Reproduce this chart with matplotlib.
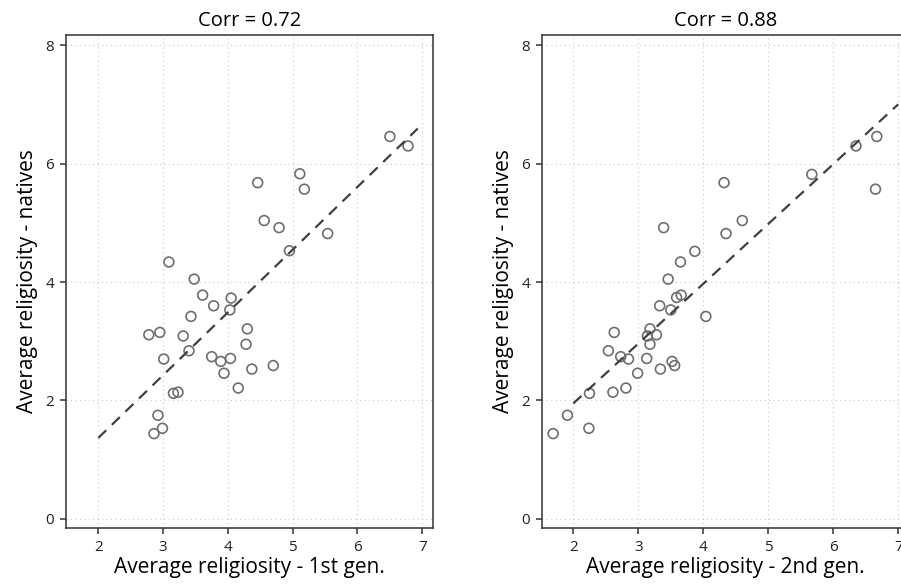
import numpy as np
import matplotlib.pyplot as plt

plt.rcParams["font.family"] = ["Open Sans", "DejaVu Sans"]

# Country averages: immigrants (1st / 2nd generation) vs natives
gen1_x = [6.50, 6.78, 4.46, 5.11, 5.18, 4.56, 4.79, 5.54, 4.95, 3.09, 3.48, 3.61,
          4.05, 3.78, 4.03, 3.43, 4.30, 2.78, 2.95, 3.31, 4.28, 3.40, 3.01, 3.75,
          3.89, 4.04, 4.70, 4.37, 3.94, 4.16, 3.16, 3.23, 2.92, 2.99, 2.86]
gen1_y = [6.46, 6.30, 5.68, 5.83, 5.57, 5.04, 4.92, 4.82, 4.53, 4.34, 4.05, 3.78,
          3.73, 3.60, 3.53, 3.42, 3.21, 3.11, 3.15, 3.09, 2.95, 2.84, 2.70, 2.74,
          2.66, 2.71, 2.59, 2.53, 2.46, 2.21, 2.12, 2.14, 1.75, 1.53, 1.44]

gen2_x = [6.67, 6.35, 6.65, 5.67, 4.32, 4.60, 4.35, 3.39, 3.87, 3.65, 3.46, 3.66,
          3.59, 3.33, 3.50, 4.04, 3.18, 2.63, 3.28, 3.14, 3.18, 2.54, 2.73, 2.85,
          3.13, 3.52, 3.56, 3.34, 2.99, 2.81, 2.61, 2.25, 1.91, 2.24, 1.69]
gen2_y = [6.46, 6.30, 5.57, 5.82, 5.68, 5.04, 4.82, 4.92, 4.52, 4.34, 4.05, 3.78,
          3.74, 3.60, 3.53, 3.42, 3.21, 3.15, 3.11, 3.09, 2.95, 2.84, 2.74, 2.70,
          2.71, 2.66, 2.59, 2.53, 2.46, 2.21, 2.14, 2.12, 1.75, 1.53, 1.44]

corr_labels = ["Corr = 0.72", "Corr = 0.88"]
xlabels = ["Average religiosity - 1st gen.", "Average religiosity - 2nd gen."]
fit_ranges = [(2.0, 6.93), (2.0, 7.0)]

fig = plt.figure(figsize=(9.01, 5.88), dpi=100)
ax1 = fig.add_axes([0.0729, 0.1015, 0.4073, 0.8395])
ax2 = fig.add_axes([0.6012, 0.1015, 0.4073, 0.8395])

panels = [(ax1, gen1_x, gen1_y, (1.497, 7.16)),
          (ax2, gen2_x, gen2_y, (1.514, 7.16))]

for i, (ax, xs, ys, xlim) in enumerate(panels):
    xs = np.array(xs)
    ys = np.array(ys)
    ax.scatter(xs, ys, s=50, facecolors="none", edgecolors="#6e6e6e",
               linewidths=1.2, zorder=3)

    # OLS fit line
    slope, icpt = np.polyfit(xs, ys, 1)
    fx = np.array(fit_ranges[i])
    ax.plot(fx, icpt + slope * fx, color="#404040", lw=1.6,
            dashes=(5, 3.5), zorder=4)

    ax.set_xlim(*xlim)
    ax.set_ylim(-0.16, 8.18)
    ax.set_xticks(range(2, 8))
    ax.set_yticks(range(0, 9, 2))
    ax.grid(True, color="#c8c8c8", linestyle=(0, (1, 3)), lw=0.8)
    ax.tick_params(direction="out", length=4.5, width=1.1, color="#333333",
                   labelsize=11, labelcolor="#222222", pad=4,
                   top=False, right=False)
    for sp in ax.spines.values():
        sp.set_color("#333333")
        sp.set_linewidth(1.1)

    ax.set_title(corr_labels[i], fontsize=14.5, pad=6)
    ax.set_xlabel(xlabels[i], fontsize=15, labelpad=1)
    ax.set_ylabel("Average religiosity - natives", fontsize=15, labelpad=5)

fig.savefig("out.png", dpi=100)
